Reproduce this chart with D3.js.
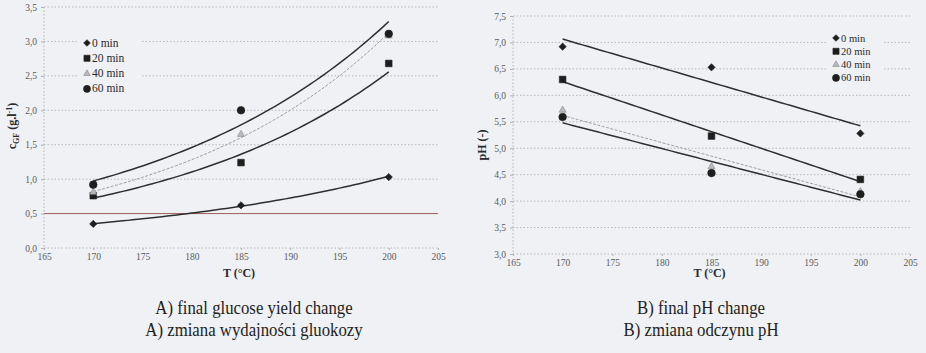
<!DOCTYPE html>
<html>
<head>
<meta charset="utf-8">
<script src="https://cdn.jsdelivr.net/npm/d3@7"></script>
<style>
  html, body { margin: 0; padding: 0; background: #eff1f4; }
  svg { display: block; }
</style>
</head>
<body>
<svg id="chart" width="926" height="353"></svg>
<script>
// temperatures (°C)
const temps = [170, 185, 200];
const seriesNames = ["0 min", "20 min", "40 min", "60 min"];

// A) glucose yield c_GF (g/l)
const glc0 = [0.35, 0.62, 1.03];
const glc20 = [0.76, 1.24, 2.68];
const glc40 = [0.81, 1.65, 3.08];
const glc60 = [0.92, 2.00, 3.11];

// B) final pH
const ph0 = [6.92, 6.53, 5.28];
const ph20 = [6.30, 5.23, 4.41];
const ph40 = [5.72, 4.65, 4.18];
const ph60 = [5.59, 4.53, 4.13];

const xTicks = [165, 170, 175, 180, 185, 190, 195, 200, 205];
const yTicksA = [0, 0.5, 1, 1.5, 2, 2.5, 3, 3.5];
const yTicksB = [3, 3.5, 4, 4.5, 5, 5.5, 6, 6.5, 7, 7.5];
const refLineA = 0.5;

const serif = "Liberation Serif";
const markers = [d3.symbolDiamond2 || d3.symbolDiamond, d3.symbolSquare, d3.symbolTriangle, d3.symbolCircle];
const markerSize = [34, 44, 22, 46];
const markerFill = ["#1e1e1e", "#1e1e1e", "#b9b9bc", "#1e1e1e"];
const markerStroke = ["#1e1e1e", "#1e1e1e", "#8a8a8e", "#1e1e1e"];

const svg = d3.select("#chart");
const fmt = d => d3.format(".1f")(d).replace(".", ",");

// least squares fit, linear or exponential
function fit(xs, ys, expo) {
  const yy = expo ? ys.map(Math.log) : ys;
  const mx = d3.mean(xs), my = d3.mean(yy);
  const b = d3.sum(xs, (x, i) => (x - mx) * (yy[i] - my)) / d3.sum(xs, x => (x - mx) ** 2);
  const a = my - b * mx;
  return x => expo ? Math.exp(a + b * x) : a + b * x;
}

function panel(opt) {
  const x = d3.scaleLinear().domain([165, 205]).range([opt.left, opt.right]);
  const y = d3.scaleLinear().domain(opt.yDomain).range([opt.bottom, opt.top]);
  const g = svg.append("g");

  // gridlines
  g.selectAll(".grid").data(opt.yTicks.filter(d => d !== opt.yDomain[0])).enter()
    .append("line")
    .attr("x1", opt.left).attr("x2", opt.right)
    .attr("y1", d => y(d)).attr("y2", d => y(d))
    .attr("stroke", "#a8a9ad").attr("stroke-width", 0.8)
    .attr("stroke-dasharray", "1.5,2");

  // axis lines
  g.append("line").attr("x1", opt.left).attr("x2", opt.left)
    .attr("y1", opt.top).attr("y2", opt.bottom)
    .attr("stroke", "#a8a9ad").attr("stroke-width", 0.8).attr("stroke-dasharray", "1.5,2");
  g.append("line").attr("x1", opt.left).attr("x2", opt.right)
    .attr("y1", opt.bottom).attr("y2", opt.bottom)
    .attr("stroke", "#a8a9ad").attr("stroke-width", 0.8).attr("stroke-dasharray", "1.5,2");

  // axes (tick labels only)
  const yAxis = g.append("g").attr("transform", `translate(${opt.left},0)`)
    .call(d3.axisLeft(y).tickValues(opt.yTicks).tickFormat(fmt).tickSize(3).tickPadding(4));
  const xAxis = g.append("g").attr("transform", `translate(0,${opt.bottom})`)
    .call(d3.axisBottom(x).tickValues(xTicks).tickSize(2).tickPadding(3));
  [yAxis, xAxis].forEach(ax => {
    ax.select(".domain").remove();
    ax.selectAll(".tick line").attr("stroke", "#b0b1b5");
    ax.selectAll("text").attr("fill", "#5a5a5e")
      .style("font-family", serif).style("font-size", "9.5px");
  });

  // legend box (covers gridlines)
  const lg = g.append("g");
  lg.append("rect").attr("x", opt.legend.x - 8).attr("y", opt.legend.y - 8)
    .attr("width", opt.legend.w).attr("height", 62).attr("fill", "#eff1f4");

  if (opt.refLine != null) {
    g.append("line").attr("x1", opt.left).attr("x2", opt.right)
      .attr("y1", y(opt.refLine)).attr("y2", y(opt.refLine))
      .attr("stroke", "#a0625f").attr("stroke-width", 1);
  }

  // trendlines
  const xs = d3.range(170, 200.01, 0.5);
  opt.series.forEach((ys, i) => {
    const f = fit(temps, ys, opt.expo);
    g.append("path")
      .datum(xs)
      .attr("d", d3.line().x(d => x(d)).y(d => y(f(d))))
      .attr("fill", "none")
      .attr("stroke", i === 2 ? "#9d9ea3" : "#2e2e30")
      .attr("stroke-width", i === 2 ? 1 : 1.5)
      .attr("stroke-dasharray", i === 2 ? "3,1.5" : null);
  });

  // points
  opt.series.forEach((ys, i) => {
    g.selectAll(null).data(ys).enter().append("path")
      .attr("transform", (d, j) => `translate(${x(temps[j])},${y(d)})`)
      .attr("d", d3.symbol().type(markers[i]).size(markerSize[i]))
      .attr("fill", markerFill[i]).attr("stroke", markerStroke[i]).attr("stroke-width", 0.6);
  });

  // legend entries
  seriesNames.forEach((name, i) => {
    const ly = opt.legend.y + i * opt.legend.step;
    lg.append("path").attr("transform", `translate(${opt.legend.x},${ly})`)
      .attr("d", d3.symbol().type(markers[i]).size(markerSize[i] * 0.85))
      .attr("fill", markerFill[i]).attr("stroke", markerStroke[i]).attr("stroke-width", 0.6);
    lg.append("text").attr("x", opt.legend.x + 5).attr("y", ly + 3.5)
      .style("font-family", serif).style("font-size", opt.legend.fs + "px")
      .attr("fill", "#2a2a2c").text(name);
  });

  // axis titles
  g.append("text").attr("x", (opt.left + opt.right) / 2 - 2).attr("y", 277)
    .attr("text-anchor", "middle").style("font-family", serif).style("font-size", "12px")
    .style("font-weight", "bold").attr("fill", "#2a2a2c").text("T (°C)");
  const yt = g.append("text")
    .attr("transform", `translate(${opt.yTitleX},${opt.yTitleY}) rotate(-90)`)
    .attr("text-anchor", "middle").style("font-family", serif).style("font-size", "12px")
    .style("font-weight", "bold").attr("fill", "#2a2a2c");
  opt.yTitle(yt);

  // caption (narrow serif, as in the source figure)
  opt.caption.forEach((c, i) => {
    svg.append("text")
      .attr("transform", `translate(${opt.captionX},${314 + i * 22}) scale(0.86,1)`)
      .attr("text-anchor", "middle").style("font-family", serif).style("font-size", "19.5px")
      .attr("fill", "#1e1e20").text(c);
  });
}

panel({
  left: 44, right: 438, top: 7, bottom: 248,
  yDomain: [0, 3.5], yTicks: yTicksA, expo: true,
  series: [glc0, glc20, glc40, glc60],
  refLine: refLineA,
  legend: { x: 87, y: 43, step: 15.3, w: 62, fs: 11.5 },
  yTitleX: 16, yTitleY: 126,
  yTitle: t => {
    t.append("tspan").text("c");
    t.append("tspan").attr("dy", 3).style("font-size", "8px").text("GF");
    t.append("tspan").attr("dy", -3).text(" (g.l");
    t.append("tspan").attr("dy", -4).style("font-size", "8px").text("-1");
    t.append("tspan").attr("dy", 4).text(")");
  },
  captionX: 254,
  caption: ["A) final glucose yield change", "A) zmiana wydajności gluokozy"]
});

panel({
  left: 513, right: 910, top: 16, bottom: 254,
  yDomain: [3, 7.5], yTicks: yTicksB, expo: false,
  series: [ph0, ph20, ph40, ph60],
  refLine: null,
  legend: { x: 836, y: 38, step: 13.3, w: 56, fs: 10.5 },
  yTitleX: 486, yTitleY: 145,
  yTitle: t => t.text("pH (-)"),
  captionX: 701,
  caption: ["B) final pH change", "B) zmiana odczynu pH"]
});
</script>
</body>
</html>
